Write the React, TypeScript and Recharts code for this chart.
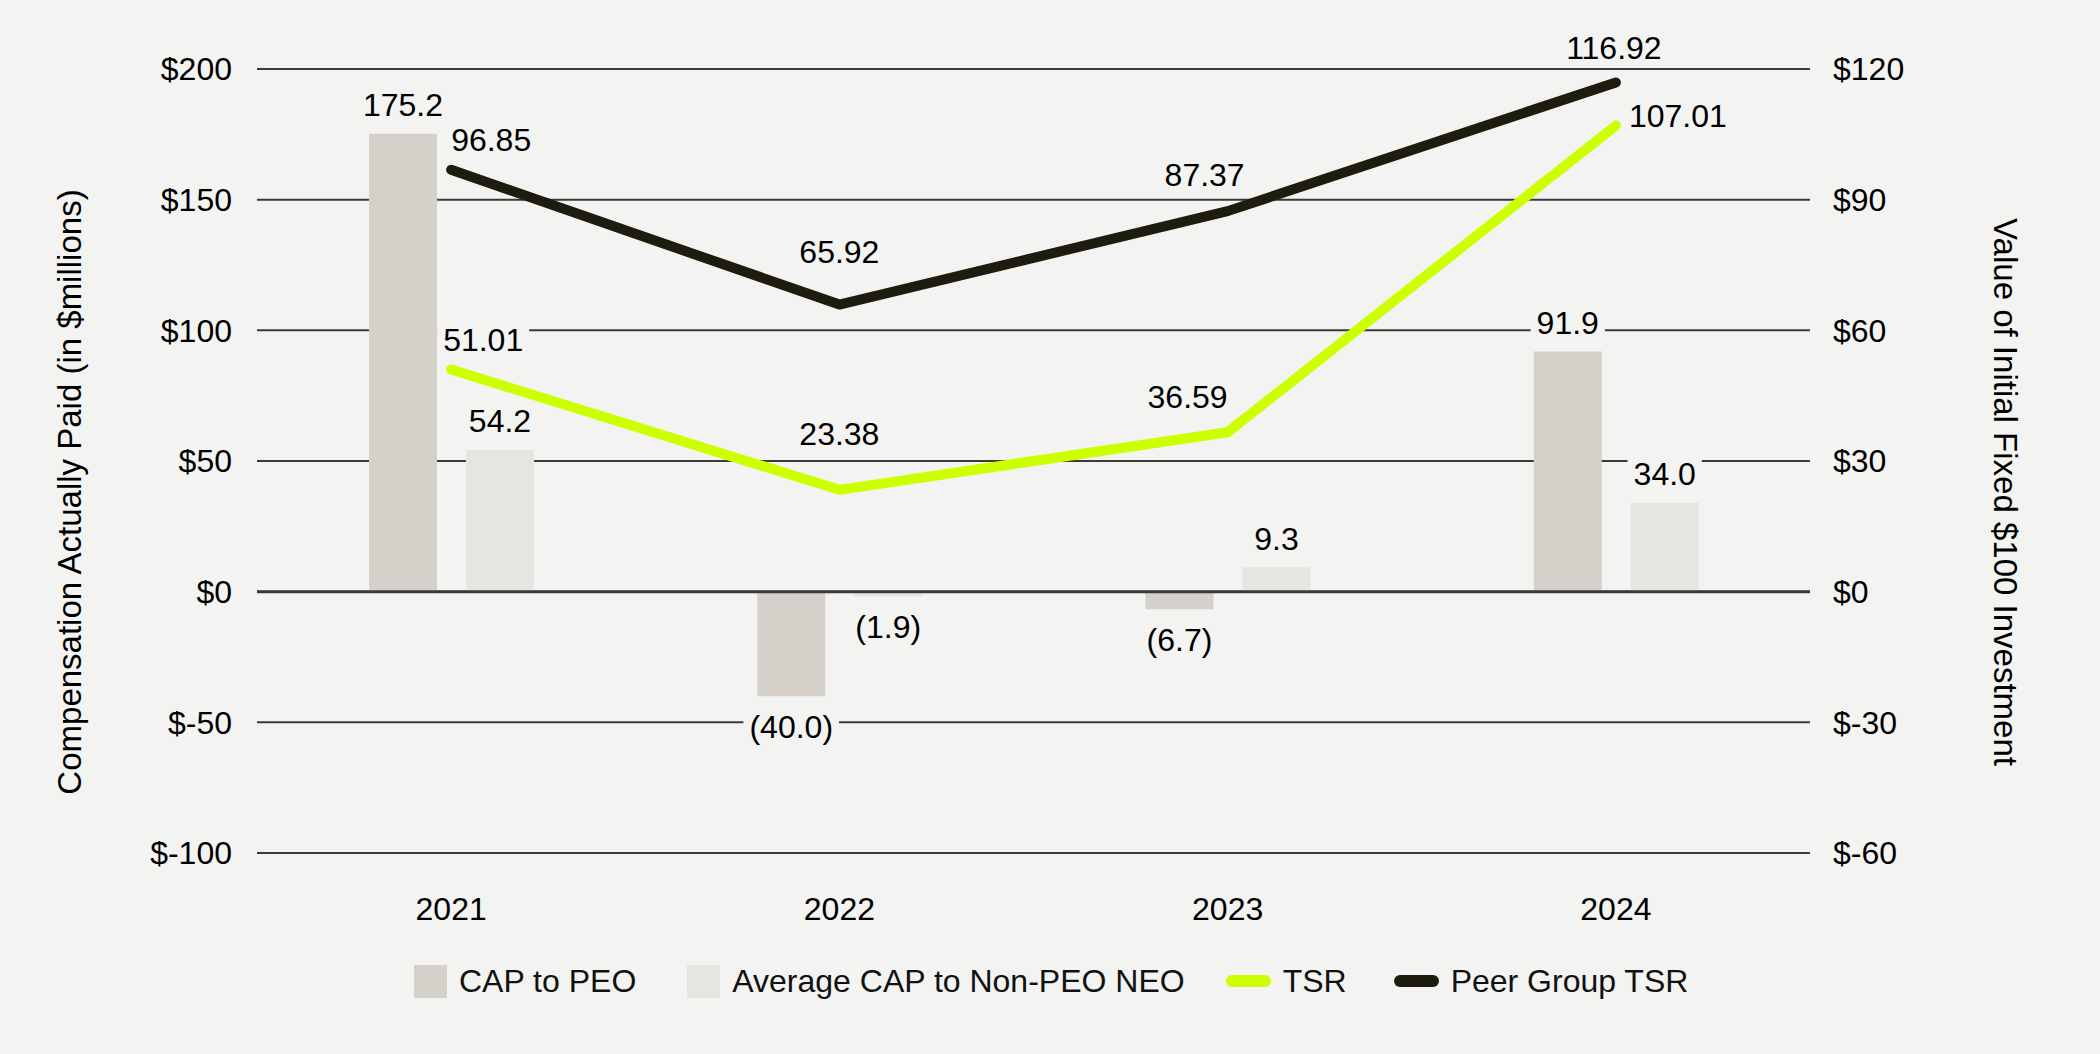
import React from 'react';
import {
  ComposedChart,
  Bar,
  Line,
  XAxis,
  YAxis,
  CartesianGrid,
  Legend,
  ReferenceLine,
} from 'recharts';

// ---------- data ----------
const years = ['2021', '2022', '2023', '2024'];
const capToPeo = [175.2, -40.0, -6.7, 91.9];
const avgCapNonPeo = [54.2, -1.9, 9.3, 34.0];
const tsr = [51.01, 23.38, 36.59, 107.01];
const peerTsr = [96.85, 65.92, 87.37, 116.92];
const leftTicks = [-100, -50, 0, 50, 100, 150, 200];
const rightTicks = [-60, -30, 0, 30, 60, 90, 120];

const data = years.map((year, i) => ({
  year,
  peo: capToPeo[i],
  avg: avgCapNonPeo[i],
  tsr: tsr[i],
  peer: peerTsr[i],
}));

// ---------- style ----------
const BG = '#f3f3f1';
const PEO_COLOR = '#d5d0ca';
const AVG_COLOR = '#e6e5e1';
const TSR_COLOR = '#ccff00';
const PEER_COLOR = '#1e1b10';
const GRID_COLOR = '#3a3a3a';
const FONT = "'Liberation Sans', Arial, Helvetica, sans-serif";
const FS = 32;

const tsrLabelPlace = [
  { anchor: 'start', dx: -8, dy: -30 },
  { anchor: 'middle', dx: 0, dy: -56 },
  { anchor: 'end', dx: 0, dy: -36 },
  { anchor: 'start', dx: 13, dy: -10 },
];
const peerLabelPlace = [
  { anchor: 'start', dx: 0, dy: -30 },
  { anchor: 'middle', dx: 0, dy: -53 },
  { anchor: 'middle', dx: -23, dy: -36 },
  { anchor: 'middle', dx: -2, dy: -35 },
];

const charW = (c: string) => {
  if (c === '.') return 0.278;
  if (c === '(' || c === ')' || c === '-') return 0.333;
  return 0.556;
};
const textWidth = (s: string) => s.split('').reduce((a, c) => a + charW(c), 0) * FS;

const LabelText = ({ cx, cy, text, anchor }: { cx: number; cy: number; text: string; anchor: string }) => {
  const w = textWidth(text);
  const left = anchor === 'start' ? cx : anchor === 'end' ? cx - w : cx - w / 2;
  return (
    <g>
      <rect x={left - 6} y={cy - 16} width={w + 12} height={32} fill={BG} />
      <text
        x={cx}
        y={cy + FS * 0.355}
        textAnchor={anchor as any}
        fontSize={FS}
        fontFamily={FONT}
        fill="#000"
      >
        {text}
      </text>
    </g>
  );
};

const renderBarLabel = (props: any) => {
  const { x, y, width, height, value } = props;
  const nx = Number(x), ny = Number(y), nw = Number(width), nh = Number(height);
  const top = Math.min(ny, ny + nh);
  const bottom = Math.max(ny, ny + nh);
  const v = Number(value);
  const cx = nx + nw / 2;
  const cy = v < 0 ? bottom + 30 : top - 29;
  const text = v < 0 ? `(${Math.abs(v).toFixed(1)})` : v.toFixed(1);
  return <LabelText key={`bl-${cx}`} cx={cx} cy={cy} text={text} anchor="middle" />;
};

const makeLineLabel = (places: any[]) => (props: any) => {
  const { x, y, value, index } = props;
  const p = places[index] || { anchor: 'middle', dx: 0, dy: -30 };
  return (
    <LabelText
      key={`ll-${index}-${x}`}
      cx={Number(x) + p.dx}
      cy={Number(y) + p.dy}
      text={Number(value).toFixed(2)}
      anchor={p.anchor}
    />
  );
};

const legendItems = [
  { label: 'CAP to PEO', color: PEO_COLOR, kind: 'box', gap: 51 },
  { label: 'Average CAP to Non-PEO NEO', color: AVG_COLOR, kind: 'box', gap: 41 },
  { label: 'TSR', color: TSR_COLOR, kind: 'line', gap: 47 },
  { label: 'Peer Group TSR', color: PEER_COLOR, kind: 'line', gap: 0 },
];

const renderLegend = () => (
  <div style={{ display: 'flex', alignItems: 'center', fontFamily: FONT, fontSize: FS, color: '#111', whiteSpace: 'nowrap' }}>
    {legendItems.map((it) => (
      <div key={it.label} style={{ display: 'flex', alignItems: 'center', marginRight: it.gap }}>
        {it.kind === 'box' ? (
          <div style={{ width: 33, height: 33, background: it.color, marginRight: 12 }} />
        ) : (
          <div style={{ width: 45, height: 12, borderRadius: 6, background: it.color, marginRight: 12 }} />
        )}
        <span style={{ lineHeight: '36px' }}>{it.label}</span>
      </div>
    ))}
  </div>
);

const tickStyle = { fontSize: FS, fontFamily: FONT, fill: '#000' };

export default function App() {
  return (
    <div
      style={{
        position: 'absolute',
        left: 0,
        top: 0,
        width: 2100,
        height: 1054,
        background: BG,
        fontFamily: FONT,
        overflow: 'hidden',
      }}
    >
      <ComposedChart
        width={2100}
        height={1054}
        data={data}
        margin={{ top: 69, right: 0, bottom: 141, left: 0 }}
        barSize={68}
        barGap={29}
      >
        <CartesianGrid vertical={false} yAxisId="left" stroke={GRID_COLOR} strokeWidth={2} />
        <XAxis
          dataKey="year"
          axisLine={false}
          tickLine={false}
          tickSize={0}
          tickMargin={44}
          height={60}
          tick={tickStyle}
          interval={0}
        />
        <YAxis
          yAxisId="left"
          orientation="left"
          width={257}
          domain={[-100, 200]}
          ticks={leftTicks}
          allowDataOverflow
          axisLine={false}
          tickLine={false}
          tickSize={0}
          tickMargin={25}
          tick={tickStyle}
          tickFormatter={(v: number) => `$${v}`}
        />
        <YAxis
          yAxisId="right"
          orientation="right"
          width={290}
          domain={[-60, 120]}
          ticks={rightTicks}
          allowDataOverflow
          axisLine={false}
          tickLine={false}
          tickSize={0}
          tickMargin={23}
          tick={tickStyle}
          tickFormatter={(v: number) => `$${v}`}
        />
        <ReferenceLine y={0} yAxisId="left" stroke={GRID_COLOR} strokeWidth={3} />
        <Bar yAxisId="left" dataKey="peo" name="CAP to PEO" fill={PEO_COLOR} isAnimationActive={false} label={renderBarLabel} />
        <Bar yAxisId="left" dataKey="avg" name="Average CAP to Non-PEO NEO" fill={AVG_COLOR} isAnimationActive={false} label={renderBarLabel} />
        <Line
          yAxisId="right"
          dataKey="tsr"
          name="TSR"
          stroke={TSR_COLOR}
          strokeWidth={10}
          strokeLinecap="round"
          strokeLinejoin="round"
          dot={false}
          activeDot={false}
          isAnimationActive={false}
          label={makeLineLabel(tsrLabelPlace)}
        />
        <Line
          yAxisId="right"
          dataKey="peer"
          name="Peer Group TSR"
          stroke={PEER_COLOR}
          strokeWidth={10}
          strokeLinecap="round"
          strokeLinejoin="round"
          dot={false}
          activeDot={false}
          isAnimationActive={false}
          label={makeLineLabel(peerLabelPlace)}
        />
        <Legend
          layout="horizontal"
          verticalAlign="middle"
          align="center"
          wrapperStyle={{ left: 414, top: 963, width: 'auto', height: 'auto' }}
          content={renderLegend}
        />
      </ComposedChart>
      <div
        style={{
          position: 'absolute',
          left: 70,
          top: 492,
          transform: 'translate(-50%, -50%) rotate(-90deg)',
          fontSize: 33,
          whiteSpace: 'nowrap',
          color: '#000',
        }}
      >
        Compensation Actually Paid (in $millions)
      </div>
      <div
        style={{
          position: 'absolute',
          left: 2005,
          top: 492,
          transform: 'translate(-50%, -50%) rotate(90deg)',
          fontSize: 33,
          whiteSpace: 'nowrap',
          color: '#000',
        }}
      >
        Value of Initial Fixed $100 Investment
      </div>
    </div>
  );
}
